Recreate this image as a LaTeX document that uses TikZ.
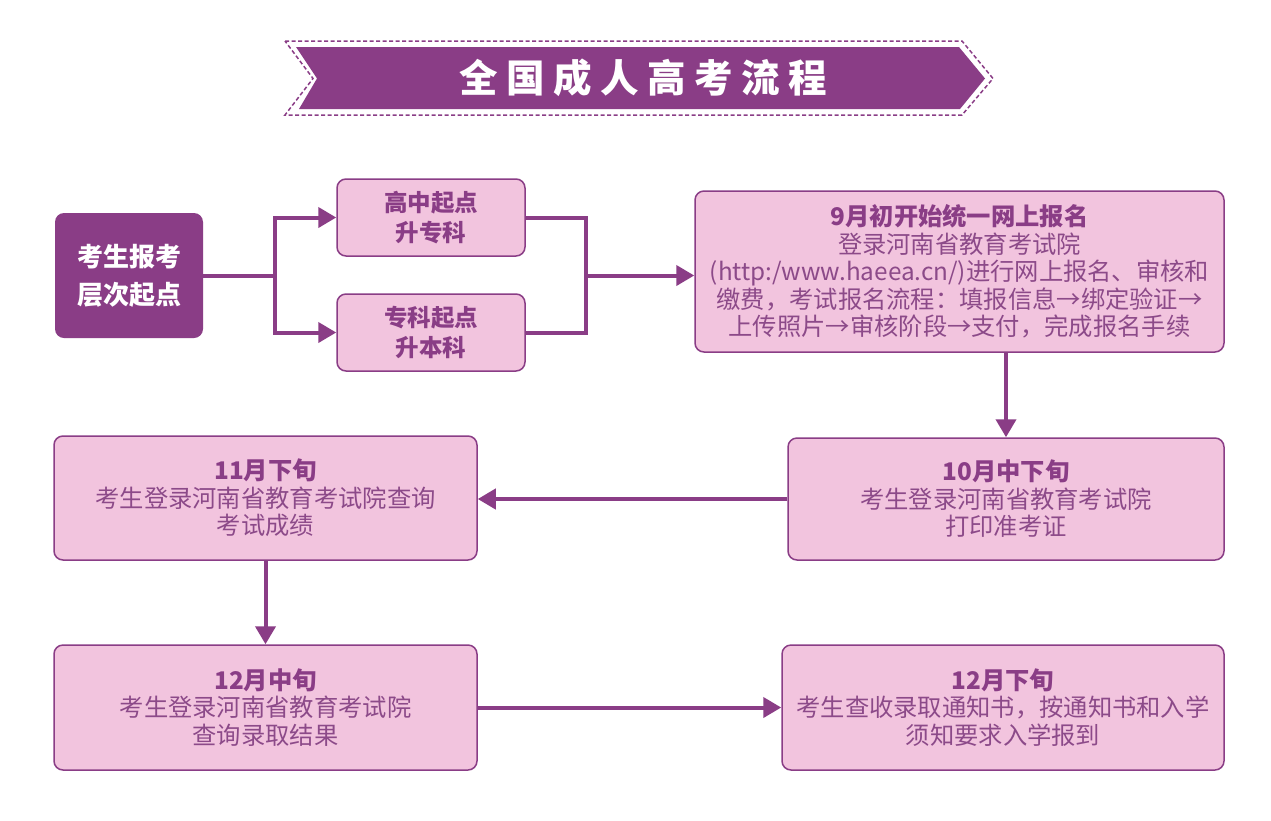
\documentclass[tikz,border=0pt]{standalone}
\usepackage{fontspec}
\setmainfont{Noto Sans CJK SC}
\usetikzlibrary{arrows.meta}
\definecolor{purp}{HTML}{8A3D86}
\definecolor{pinkf}{HTML}{F2C4DE}
\definecolor{bodyt}{HTML}{8C4A89}
\tikzset{
  pbox/.style={draw=purp, line width=1.5pt, fill=pinkf, rounded corners=9pt,
    align=center, text=bodyt, inner sep=0pt, font=\fontsize{24.3}{27.5}\selectfont},
  dbox/.style={fill=purp, rounded corners=9pt, align=center, text=white, inner sep=0pt,
    font=\fontsize{26}{38}\selectfont\bfseries},
  sbox/.style={pbox, text=purp, font=\fontsize{23.5}{30}\selectfont\bfseries},
  conn/.style={draw=purp, line width=4pt},
  arr/.style={conn, -{Triangle[length=18pt,width=20pt]}}
}
\newcommand{\hdg}[1]{{\bfseries\color{purp}#1}}
\begin{document}
\begin{tikzpicture}[x=1pt,y=-1pt]
\useasboundingbox (0,0) rectangle (1271,820);
\fill[white] (0,0) rectangle (1271,820);
% banner
\fill[purp] (296,47) -- (959,47) -- (985,78.5) -- (960,109) -- (299,109) -- (317,78.5) -- cycle;
\draw[purp, line width=1.5pt, dash pattern=on 4pt off 2.5pt] (285,41) -- (962,41) -- (993,78.5) -- (962,115) -- (285,115) -- (313,78.5) -- cycle;
\node[text=white, font=\fontsize{38.5}{40}\selectfont\bfseries] (title) at (643,78) {全\hspace{8.5pt}国\hspace{8.5pt}成\hspace{8.5pt}人\hspace{8.5pt}高\hspace{8.5pt}考\hspace{8.5pt}流\hspace{8.5pt}程};
% nodes
\node[dbox, minimum width=148pt, minimum height=125pt] (L) at (129,275.5) {考生报考\\层次起点};
\node[sbox, minimum width=188pt, minimum height=77pt] (A) at (431,217.5) {高中起点\\升专科};
\node[sbox, minimum width=188pt, minimum height=77pt] (B) at (431,332.5) {专科起点\\升本科};
\node[pbox, minimum width=529pt, minimum height=161pt] (C) at (959.5,271.5) {\hdg{9月初开始统一网上报名}\\登录河南省教育考试院\\(http:/www.haeea.cn/)进行网上报名、审核和\\缴费，考试报名流程：填报信息→绑定验证→\\上传照片→审核阶段→支付，完成报名手续};
\node[pbox, minimum width=436pt, minimum height=122pt] (D) at (1006,499) {\hdg{10月中下旬}\\考生登录河南省教育考试院\\打印准考证};
\node[pbox, minimum width=423pt, minimum height=124pt] (E) at (265.5,498) {\hdg{11月下旬}\\考生登录河南省教育考试院查询\\考试成绩};
\node[pbox, minimum width=423pt, minimum height=125pt] (F) at (265.5,707.5) {\hdg{12月中旬}\\考生登录河南省教育考试院\\查询录取结果};
\node[pbox, minimum width=442pt, minimum height=125pt] (G) at (1003,707.5) {\hdg{12月下旬}\\考生查收录取通知书，按通知书和入学\\须知要求入学报到};
% connectors
\coordinate (j1) at (275,275.5);
\coordinate (j2) at (586,275.5);
\draw[conn] (L.east) -- (j1);
\draw[arr] (j1) |- (A.west);
\draw[arr] (j1) |- (B.west);
\draw[conn] (A.east) -| (j2);
\draw[conn] (B.east) -| (j2);
\draw[arr] (j2) -- (j2 -| C.west);
\draw[arr] (C.south -| D.north) -- (D.north);
\draw[arr] (D.west) -- (D.west -| E.east);
\draw[arr] (E.south) -- (F.north);
\draw[arr] (F.east) -- (G.west);
\end{tikzpicture}
\end{document}
